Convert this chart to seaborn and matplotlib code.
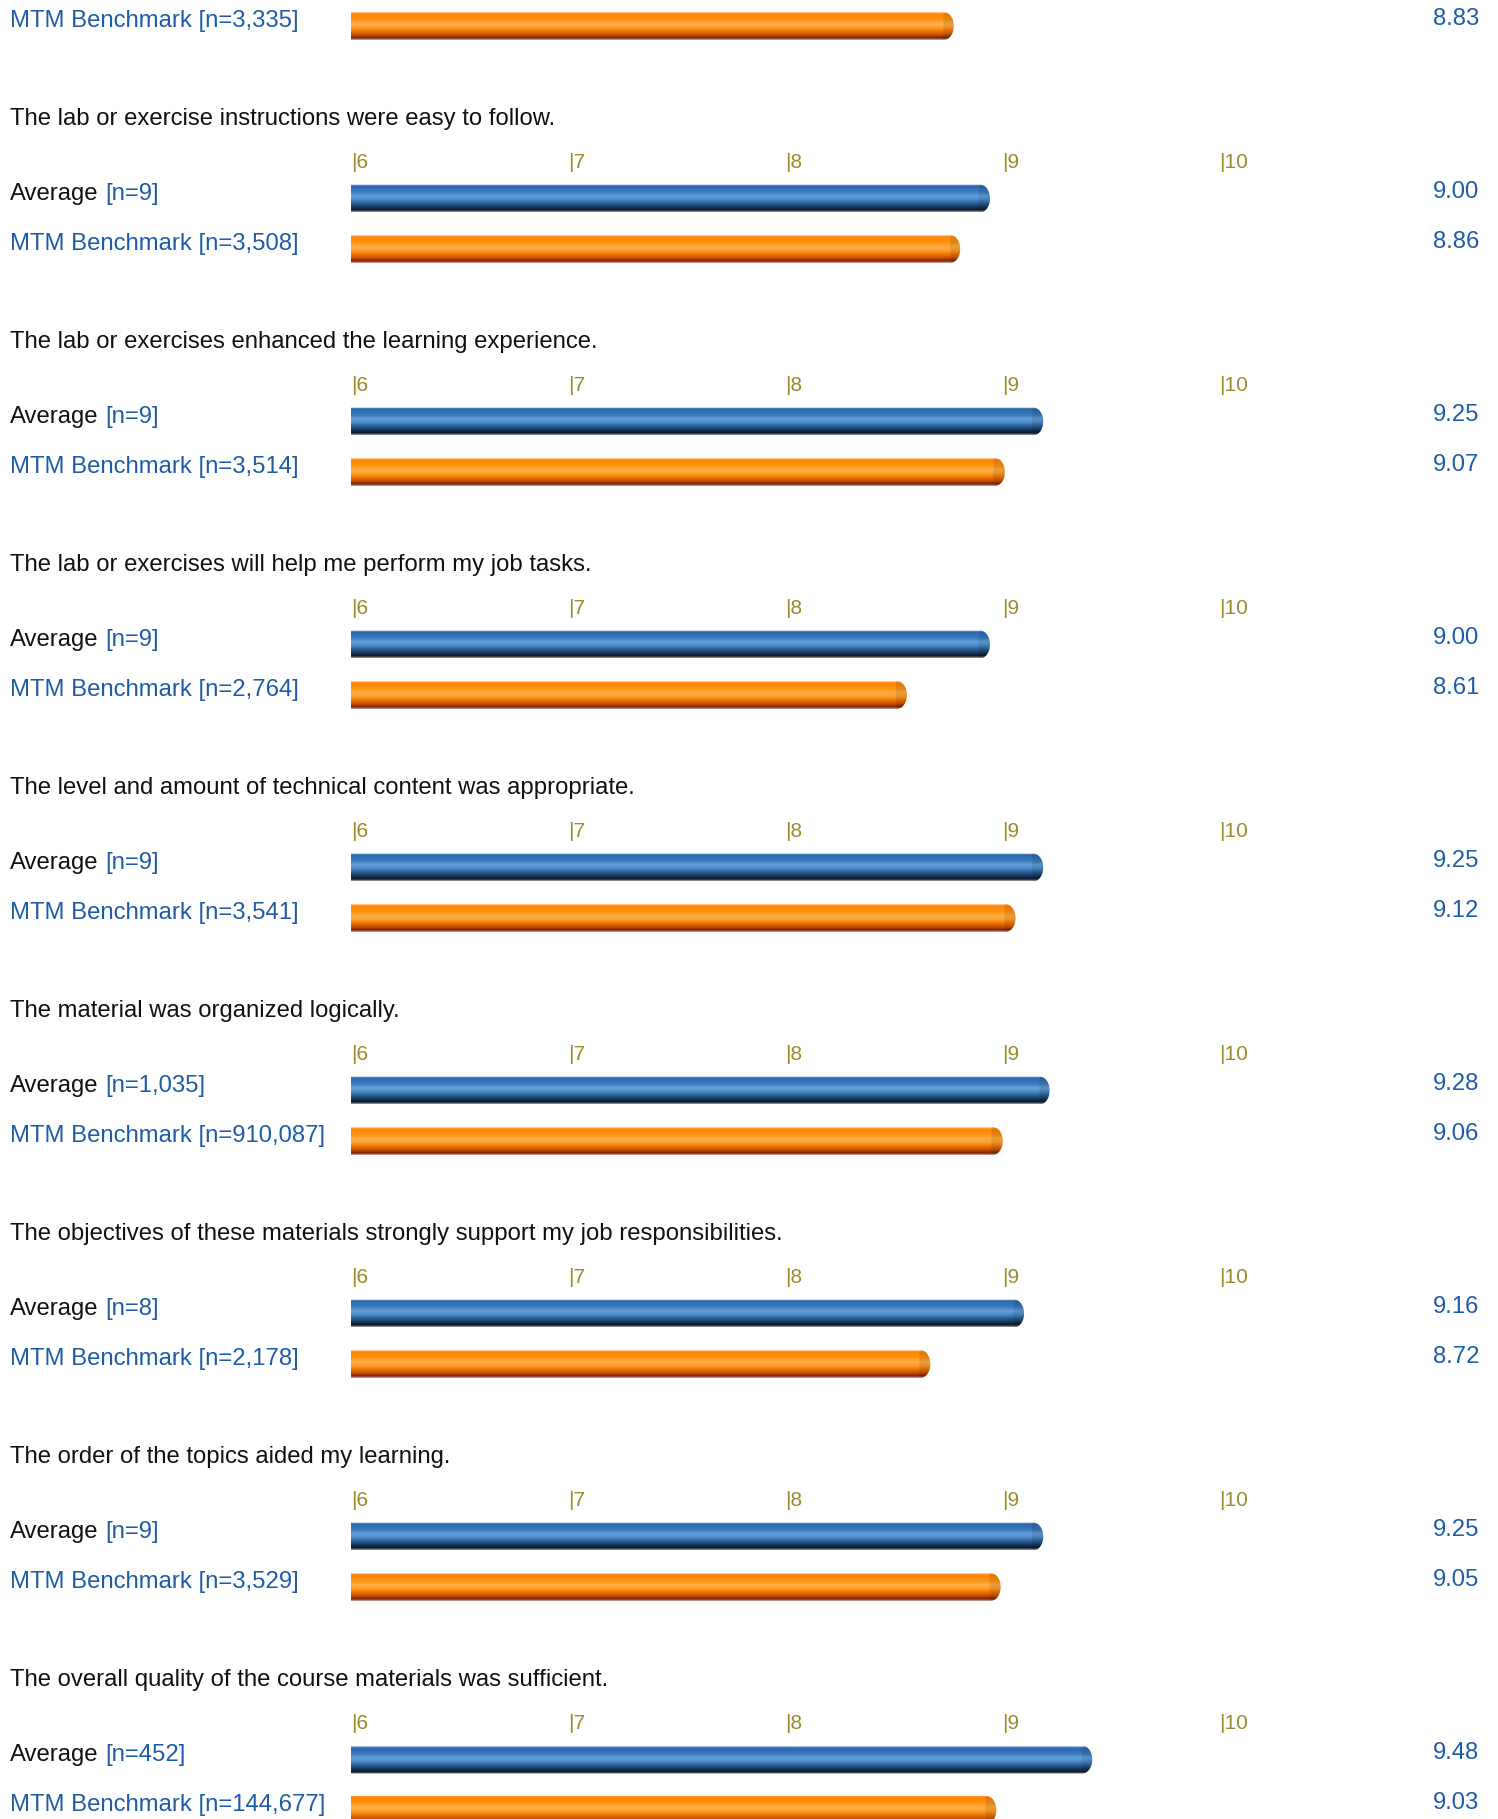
import numpy as np
import matplotlib
matplotlib.use("Agg")
import matplotlib.pyplot as plt
import matplotlib.transforms as mtransforms
from matplotlib.path import Path
from matplotlib.patches import PathPatch
from matplotlib.colors import to_rgb
import seaborn as sns

sns.set_theme(style="white")
plt.rcParams['font.family'] = ['Liberation Sans', 'DejaVu Sans']

# Benchmark row carried over from the previous question
lead_bench_score = 8.83
lead_bench_n = "3,335"

questions = [
    "The lab or exercise instructions were easy to follow.",
    "The lab or exercises enhanced the learning experience.",
    "The lab or exercises will help me perform my job tasks.",
    "The level and amount of technical content was appropriate.",
    "The material was organized logically.",
    "The objectives of these materials strongly support my job responsibilities.",
    "The order of the topics aided my learning.",
    "The overall quality of the course materials was sufficient.",
]
avg_scores = [9.00, 9.25, 9.00, 9.25, 9.28, 9.16, 9.25, 9.48]
avg_n = ["9", "9", "9", "9", "1,035", "8", "9", "452"]
bench_scores = [8.86, 9.07, 8.61, 9.12, 9.06, 8.72, 9.05, 9.03]
bench_n = ["3,508", "3,514", "2,764", "3,541", "910,087", "2,178", "3,529", "144,677"]
tick_values = [6, 7, 8, 9, 10]
row_names = ["Average", "MTM Benchmark"]

W, H = 1498, 1819
fig = plt.figure(figsize=(W / 100, H / 100), dpi=100)
fig.patch.set_facecolor("white")

X_LEFT = 351        # pixel column where the score scale starts (score 6)
PX_PER_UNIT = 213   # pixels per score point
TICK_STEP_PAD = 4   # extra spacing of the "|n" marker labels per score point
ROW_GAP = 50.5
BAR_H = 28
PERIOD = 223
X_MIN = 6

BLUE = "#2f6fb0"
ORANGE = "#ff8c00"
TEXT_BLUE = "#1f5ca8"
TICK_COLOR = "#9c8a2c"
FS = 17.2
TICK_FS = 15

BLUE_STOPS = [(0.0, "#d4dfea"), (0.06, "#2a68ab"), (0.28, "#3a7cc0"),
              (0.42, "#64a1da"), (0.55, "#4e8cc9"), (0.68, "#2c6099"),
              (0.82, "#163759"), (0.93, "#0b1726"), (1.0, "#a8a8a8")]
ORANGE_STOPS = [(0.0, "#ffdcb8"), (0.06, "#ff8300"), (0.28, "#ff9512"),
                (0.42, "#ffae4a"), (0.55, "#ffa02c"), (0.68, "#f07800"),
                (0.82, "#c45000"), (0.93, "#7c1e06"), (1.0, "#ccb0b0")]


def gradient(stops, n=140):
    pos = np.array([s[0] for s in stops])
    cols = np.array([to_rgb(s[1]) for s in stops])
    t = np.linspace(0, 1, n)
    return np.stack([np.interp(t, pos, cols[:, i]) for i in range(3)], axis=1)


def ftext(x_px, y_px, s, **kw):
    return fig.text(x_px / W, 1 - y_px / H, s, va="baseline", **kw)


def bar_group(first_center_px, labels, values, colors, stops_list):
    n = len(values)
    top = first_center_px - ROW_GAP / 2
    height = ROW_GAP * n
    ax = fig.add_axes([X_LEFT / W, 1 - (top + height) / H,
                       (W - X_LEFT) / W, height / H])
    sns.barplot(x=values, y=labels, hue=labels, palette=colors, orient="h",
                width=BAR_H / ROW_GAP, legend=False, ax=ax)
    xmax = X_MIN + (W - X_LEFT) / PX_PER_UNIT
    rx = 10 / PX_PER_UNIT
    for patch in list(ax.patches):
        y0 = patch.get_y()
        h = patch.get_height()
        y1 = y0 + h
        yc = y0 + h / 2
        idx = int(round(yc))
        x1 = patch.get_x() + patch.get_width()
        # tube outline: flat start, rounded right end
        theta = np.linspace(-np.pi / 2, np.pi / 2, 40)
        arc_x = (x1 - rx) + rx * np.cos(theta)
        arc_y = yc + (h / 2) * np.sin(theta)
        verts = [(X_MIN - 0.5, y0)] + list(zip(arc_x, arc_y)) + \
                [(X_MIN - 0.5, y1), (X_MIN - 0.5, y0)]
        outline = PathPatch(Path(np.array(verts), closed=True),
                            transform=ax.transData, facecolor="none",
                            edgecolor="none")
        ax.add_patch(outline)
        grad = gradient(stops_list[idx])
        xs = np.linspace(X_MIN, x1, 400)
        shade = np.where(xs > x1 - rx * 1.05, 0.9, 1.0)
        img = np.clip(grad[:, None, :] * shade[None, :, None], 0, 1)
        im = ax.imshow(img, extent=(X_MIN, x1, y1, y0), origin="upper",
                       aspect="auto", interpolation="bilinear", zorder=3)
        im.set_clip_path(outline)
        patch.set_visible(False)
    ax.set_xlim(X_MIN, xmax)
    ax.set_ylim(n - 0.5, -0.5)
    ax.axis("off")
    return ax


renderer = fig.canvas.get_renderer()


def two_tone_label(y_px, head, tail, head_color, tail_color):
    """Draw 'head tail' with the two parts in different colours."""
    probe = ftext(10, y_px, head + " " + tail, fontsize=FS)
    right_px = probe.get_window_extent(renderer).x1
    probe.remove()
    fig.text(right_px / W, 1 - y_px / H, tail, va="baseline", ha="right",
             color=tail_color, fontsize=FS)
    ftext(10, y_px, head, color=head_color, fontsize=FS)


# partial group at the top: only the benchmark row is visible
bar_group(26, ["MTM Benchmark"], [lead_bench_score], [ORANGE], [ORANGE_STOPS])
ftext(10, 27, "MTM Benchmark [n=" + lead_bench_n + "]", color=TEXT_BLUE,
      fontsize=FS)
ftext(1479, 25, f"{lead_bench_score:.2f}", color=TEXT_BLUE, fontsize=FS,
      ha="right")

for k, q in enumerate(questions):
    off = PERIOD * k
    ftext(10, 125 + off, q, color="#111111", fontsize=FS)
    ax = bar_group(198.5 + off, row_names, [avg_scores[k], bench_scores[k]],
                   [BLUE, ORANGE], [BLUE_STOPS, ORANGE_STOPS])
    base = mtransforms.blended_transform_factory(ax.transData, fig.transFigure)
    for v in tick_values:
        shift = (0.5 + TICK_STEP_PAD * (v - X_MIN)) / 100
        trans = base + mtransforms.ScaledTranslation(shift, 0, fig.dpi_scale_trans)
        ax.text(v, 1 - (168 + off) / H, f"|{v}", transform=trans,
                color=TICK_COLOR, fontsize=TICK_FS, va="baseline",
                ha="left", clip_on=False)
    two_tone_label(200 + off, "Average", "[n=" + avg_n[k] + "]",
                   "#111111", TEXT_BLUE)
    ftext(10, 250 + off, "MTM Benchmark [n=" + bench_n[k] + "]",
          color=TEXT_BLUE, fontsize=FS)
    ftext(1479, 198 + off, f"{avg_scores[k]:.2f}", color=TEXT_BLUE,
          fontsize=FS, ha="right")
    ftext(1479, 248 + off, f"{bench_scores[k]:.2f}", color=TEXT_BLUE,
          fontsize=FS, ha="right")

fig.savefig("out.png", dpi=100, facecolor="white")
